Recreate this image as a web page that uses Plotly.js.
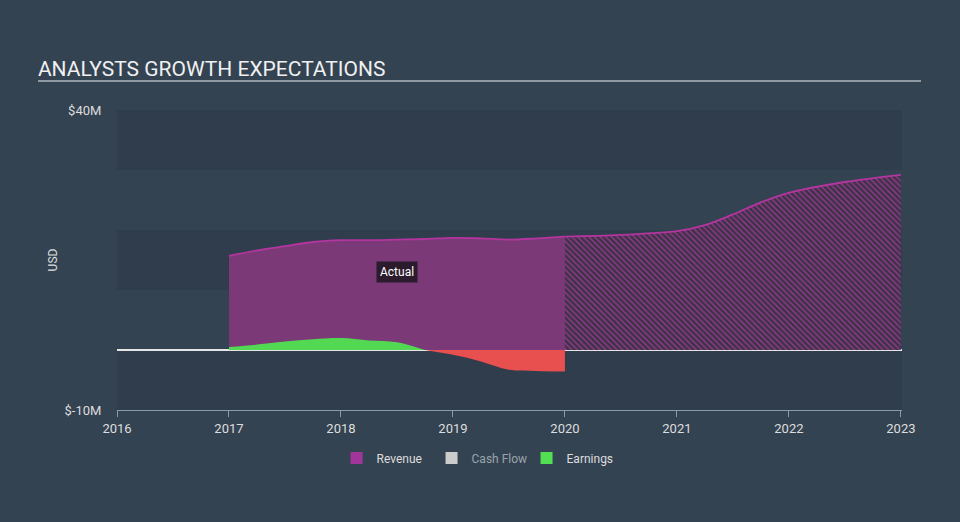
<!DOCTYPE html>
<html>
<head>
<meta charset="utf-8">
<script src="https://cdn.plot.ly/plotly-3.0.1.min.js"></script>
<style>html,body{margin:0;padding:0;background:#344352;}#chart{width:960px;height:522px;}</style>
</head>
<body>
<div id="chart"></div>
<script>
// ---- data (USD millions) ----
var actualYears = [2017.0, 2017.25, 2017.5, 2017.75, 2018.0, 2018.25, 2018.5, 2018.75, 2019.0, 2019.25, 2019.5, 2019.75, 2020.0];
var revenueActual = [15.7, 16.6, 17.3, 18.0, 18.3, 18.3, 18.4, 18.5, 18.7, 18.6, 18.4, 18.6, 18.9];
var earningsActual = [0.5, 0.9, 1.4, 1.8, 2.0, 1.6, 1.3, 0.0, -0.8, -1.9, -3.3, -3.5, -3.6];
var forecastYears = [2020.0, 2020.5, 2021.0, 2021.25, 2021.5, 2021.75, 2022.0, 2022.5, 2023.0];
var revenueForecast = [18.9, 19.2, 19.8, 20.8, 22.6, 24.6, 26.2, 28.0, 29.2];
var xTicks = [2016, 2017, 2018, 2019, 2020, 2021, 2022, 2023];
var yTickVals = [-10, 40];
var yTickText = ['$-10M', '$40M'];

// split earnings into positive (green) and negative (red) parts
var posX = [], posY = [], negX = [], negY = [];
for (var i = 0; i < actualYears.length; i++) {
  if (earningsActual[i] >= 0) { posX.push(actualYears[i]); posY.push(earningsActual[i]); }
  if (earningsActual[i] <= 0) { negX.push(actualYears[i]); negY.push(earningsActual[i]); }
}

var traces = [
  { x: actualYears, y: revenueActual, type: 'scatter', mode: 'lines', fill: 'tozeroy',
    fillcolor: '#7b3a77', line: { color: '#b4359f', width: 1.8, shape: 'spline' },
    showlegend: false, hoverinfo: 'skip' },
  { x: forecastYears, y: revenueForecast, type: 'scatter', mode: 'lines', fill: 'tozeroy',
    fillcolor: '#3d3346',
    fillpattern: { shape: '\\', fgcolor: '#96388f', bgcolor: '#3d3346', size: 4, solidity: 0.35 },
    line: { color: '#b4359f', width: 1.8, shape: 'spline' },
    showlegend: false, hoverinfo: 'skip' },
  { x: posX, y: posY, type: 'scatter', mode: 'lines', fill: 'tozeroy',
    fillcolor: '#52d852', line: { color: '#52d852', width: 0, shape: 'spline' },
    showlegend: false, hoverinfo: 'skip' },
  { x: negX, y: negY, type: 'scatter', mode: 'lines', fill: 'tozeroy',
    fillcolor: '#e84f4f', line: { color: '#e84f4f', width: 0, shape: 'spline' },
    showlegend: false, hoverinfo: 'skip' },
  // legend entries
  { x: [null], y: [null], type: 'bar', name: 'Revenue', marker: { color: '#a1359a' } },
  { x: [null], y: [null], type: 'bar', name: '<span style="color:#9aa3ab">Cash Flow</span>', marker: { color: '#cccccc' } },
  { x: [null], y: [null], type: 'bar', name: 'Earnings', marker: { color: '#52e052' } }
];

var bands = [[30, 40], [10, 20], [-10, 0]];
var shapes = bands.map(function (b) {
  return { type: 'rect', xref: 'paper', yref: 'y', x0: 0, x1: 1, y0: b[0], y1: b[1],
           fillcolor: '#2f3d4c', line: { width: 0 }, layer: 'below' };
});
shapes.push({ type: 'line', xref: 'paper', yref: 'paper', x0: -0.1006, x1: 1.0242, y0: 1.0967, y1: 1.0967,
              line: { color: '#aeb6be', width: 1.5 } });

var layout = {
  width: 960, height: 522,
  paper_bgcolor: '#344352', plot_bgcolor: '#344352',
  margin: { l: 117, r: 58, t: 110, b: 112 },
  font: { family: 'Roboto, sans-serif', color: '#dddddd', size: 12 },
  title: { text: 'ANALYSTS GROWTH EXPECTATIONS', xref: 'container', yref: 'container',
           x: 0.0395, xanchor: 'left', y: 0.868, yanchor: 'middle',
           font: { family: 'Roboto, sans-serif', size: 21, color: '#f0f0f0' } },
  xaxis: { range: [2016, 2023.01], tickvals: xTicks, ticktext: xTicks.map(String),
           showgrid: false, zeroline: false, showline: true, linecolor: '#8c99a6', linewidth: 1,
           ticks: 'outside', ticklen: 6, tickcolor: '#8c99a6',
           tickfont: { size: 13, color: '#dddddd' }, fixedrange: true },
  yaxis: { range: [-10, 40], tickvals: yTickVals, ticktext: yTickText,
           showgrid: false, zeroline: true, zerolinecolor: '#e6e6e6', zerolinewidth: 1.5,
           ticks: 'outside', ticklen: 12, tickcolor: 'rgba(0,0,0,0)',
           tickfont: { size: 13, color: '#dddddd' },
           title: { text: 'USD', standoff: 4, font: { size: 12, color: '#dddddd' } }, fixedrange: true },
  shapes: shapes,
  annotations: [
    { x: 2018.5, y: 13, xref: 'x', yref: 'y', text: 'Actual', showarrow: false,
      bgcolor: '#2b1b2c', borderpad: 3, font: { size: 12, color: '#ffffff' } }
  ],
  showlegend: true,
  legend: { orientation: 'h', xref: 'container', yref: 'container', x: 0.499, xanchor: 'center',
            y: 0.1226, yanchor: 'middle', font: { size: 12, color: '#dddddd' },
            entrywidth: 50, entrywidthmode: 'pixels',
            bgcolor: 'rgba(0,0,0,0)', itemclick: false, itemdoubleclick: false }
};

Plotly.newPlot('chart', traces, layout, { displayModeBar: false, staticPlot: true });
</script>
</body>
</html>
